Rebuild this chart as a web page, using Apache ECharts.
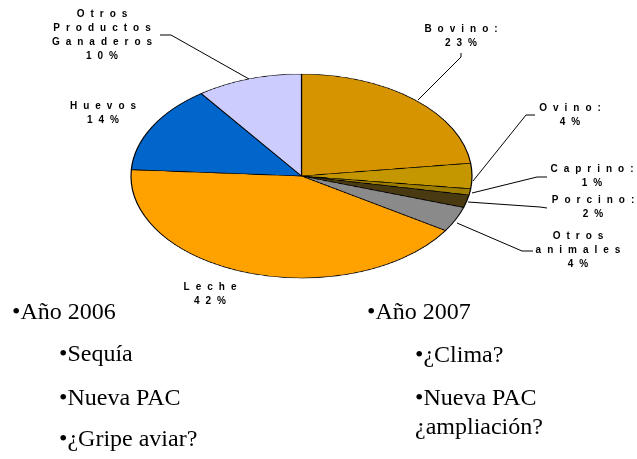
<!DOCTYPE html>
<html>
<head>
<meta charset="utf-8">
<script src="https://cdn.jsdelivr.net/npm/echarts@6/dist/echarts.min.js"></script>
<style>
  html, body { margin: 0; padding: 0; background: #fff; }
  #wrap { position: relative; width: 637px; height: 459px; overflow: hidden; }
  .layer { position: absolute; left: 0; top: 0; width: 637px; height: 459px; }
  /* the pie in the picture is squashed into an ellipse */
  #pie { transform-origin: 0 176px; transform: scaleY(0.598); }
</style>
</head>
<body>
<div id="wrap">
  <div id="pie" class="layer"></div>
  <div id="notes" class="layer"></div>
  <div id="labels" class="layer"></div>
</div>
<script>
// data
const categories = ['Bovino', 'Ovino', 'Caprino', 'Porcino', 'Otros animales', 'Leche', 'Huevos', 'Otros Productos Ganaderos'];
const shares = [23, 4, 1, 2, 4, 42, 14, 10];
const labelNames = ['Bovino:', 'Ovino:', 'Caprino:', 'Porcino:', 'Otros\nanimales', 'Leche', 'Huevos', 'Otros\nProductos\nGanaderos'];
const notesLeft = ['•Año 2006', '•Sequía', '•Nueva PAC', '•¿Gripe aviar?'];
const notesRight = ['•Año 2007', '•¿Clima?', '•Nueva PAC', '¿ampliación?'];

// styles / positions
const sliceColors = ['#D69400', '#C49600', '#9E7E00', '#4A3A12', '#8A8A8A', '#FFA200', '#0066CC', '#CCCCFF'];
const labelPos = [[464, 36], [573, 115], [595, 176], [596, 207.5], [581, 250], [213, 294], [106, 113.5], [105, 35]];
const leaderLines = [
  [[461, 53], [461, 57], [418, 100]],
  [[535, 115], [526, 115], [473, 181]],
  [[547, 177], [537, 177], [472, 193]],
  [[547, 208], [540, 207], [468, 202]],
  [[533, 251], [522, 251], [457, 223]],
  null,
  null,
  [[160, 35], [171, 35], [249, 79]]
];
const notesLeftPos = [[12, 313], [59, 355], [59, 399], [59, 440]];
const notesRightPos = [[367, 313], [415, 356], [415, 399], [415, 428]];

// pie (circle, squashed by css)
const pieChart = echarts.init(document.getElementById('pie'));
pieChart.setOption({
  animation: false,
  series: [{
    type: 'pie',
    center: [301.5, 176],
    radius: 170.5,
    startAngle: 90,
    clockwise: true,
    label: { show: false },
    labelLine: { show: false },
    emphasis: { disabled: true },
    itemStyle: { borderColor: '#000', borderWidth: 1.2 },
    data: categories.map((name, i) => ({
      name: name,
      value: shares[i],
      itemStyle: { color: sliceColors[i] }
    }))
  }]
});

// leader lines + bullet notes
const notesElements = [];
leaderLines.forEach(pts => {
  if (!pts) return;
  notesElements.push({
    type: 'polyline',
    shape: { points: pts },
    style: { stroke: '#000', lineWidth: 1, fill: null },
    silent: true
  });
});
const addNotes = (list, pos) => {
  list.forEach((t, i) => {
    notesElements.push({
      type: 'text',
      x: pos[i][0],
      y: pos[i][1],
      style: {
        text: t,
        fontFamily: '"Liberation Serif", "Times New Roman", serif',
        fontSize: 24,
        fill: '#000',
        textAlign: 'left',
        textVerticalAlign: 'middle'
      },
      silent: true
    });
  });
};
addNotes(notesLeft, notesLeftPos);
addNotes(notesRight, notesRightPos);

const notesChart = echarts.init(document.getElementById('notes'));
notesChart.setOption({ animation: false, graphic: { elements: notesElements } });

// slice labels, spaced out letters like the original
const labelOption = {
  animation: false,
  graphic: {
    elements: labelNames.map((n, i) => ({
      type: 'text',
      x: labelPos[i][0],
      y: labelPos[i][1],
      style: {
        text: n + '\n' + shares[i] + '%',
        fontFamily: '"Liberation Sans", Arial, sans-serif',
        fontWeight: 'bold',
        fontSize: 10,
        fill: '#000',
        lineHeight: 14,
        textAlign: 'center',
        textVerticalAlign: 'middle'
      },
      silent: true
    }))
  }
};
const labelChart = echarts.init(document.getElementById('labels'));
labelChart.setOption(labelOption);
document.querySelectorAll('#labels canvas').forEach(c => {
  const ctx = c.getContext('2d');
  if ('letterSpacing' in ctx) ctx.letterSpacing = '6px';
});
labelChart.clear();
labelChart.setOption(labelOption);
</script>
</body>
</html>
